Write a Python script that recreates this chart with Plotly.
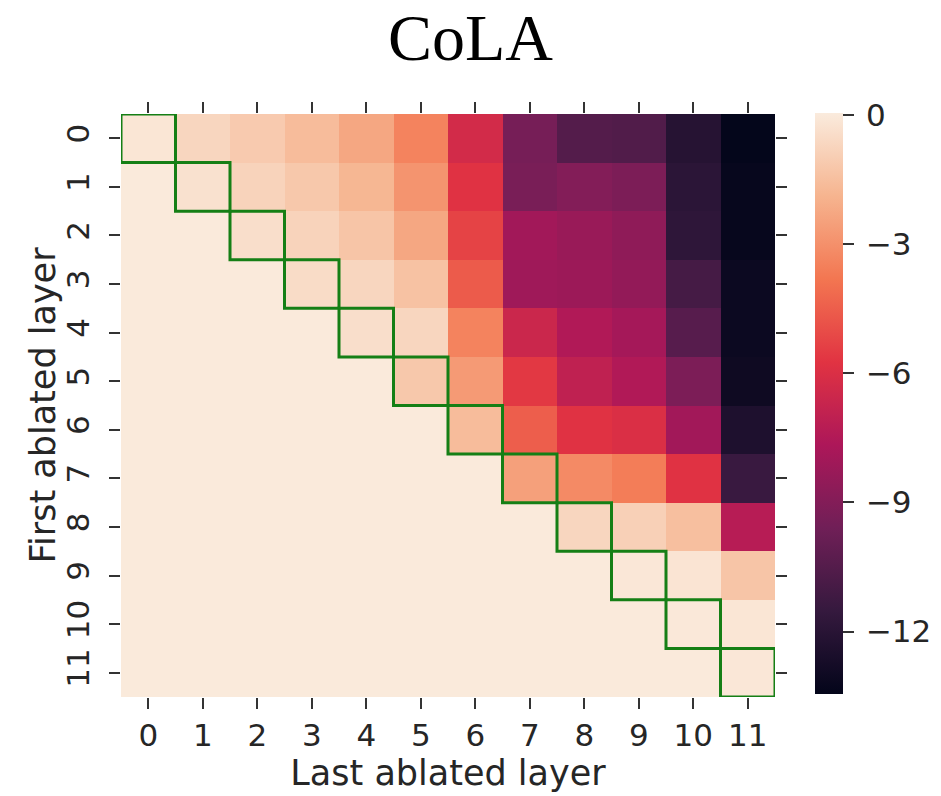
import plotly.graph_objects as go

# Layer indices (12 transformer layers)
layers = list(range(12))
layer_labels = [str(i) for i in layers]

# Change in CoLA score when ablating layers first..last (upper triangle, row = first layer)
row_first_0 = [-0.15, -0.7, -1.1, -1.6, -2.3, -3.4, -6.3, -9.4, -10.5, -10.6, -12.1, -13.4]
row_first_1 = [-0.3, -0.8, -1.2, -1.8, -2.9, -5.8, -9.3, -9.0, -9.2, -11.9, -13.3]
row_first_2 = [-0.4, -0.8, -1.3, -2.3, -5.3, -8.0, -8.3, -8.6, -11.8, -13.3]
row_first_3 = [-0.5, -0.7, -1.4, -4.6, -8.1, -8.2, -8.5, -11.0, -13.1]
row_first_4 = [-0.4, -0.7, -3.4, -6.6, -7.5, -7.9, -10.4, -13.1]
row_first_5 = [-1.2, -2.7, -5.6, -7.0, -7.5, -9.2, -13.0]
row_first_6 = [-1.6, -4.5, -5.8, -6.0, -8.0, -12.4]
row_first_7 = [-2.5, -3.2, -3.6, -5.8, -11.4]
row_first_8 = [-0.7, -0.9, -1.5, -7.3]
row_first_9 = [-0.1, -0.2, -1.3]
row_first_10 = [-0.05, -0.15]
row_first_11 = [-0.1]

upper_rows = [row_first_0, row_first_1, row_first_2, row_first_3, row_first_4,
              row_first_5, row_first_6, row_first_7, row_first_8, row_first_9,
              row_first_10, row_first_11]

# Cells below the diagonal (last < first) are unchanged
z = [[0.0] * (len(layers) - len(r)) + r for r in upper_rows]

# Colour bar ticks
cbar_ticks = [0, -3, -6, -9, -12]
cbar_labels = ["\u2009" + ("\u2212" + str(-v) if v < 0 else str(v)) for v in cbar_ticks]

# Seaborn "rocket" colormap
rocket = [
    [0.0, "#03051A"],
    [0.143, "#35193E"],
    [0.286, "#701F57"],
    [0.429, "#AD1759"],
    [0.571, "#E13342"],
    [0.714, "#F37651"],
    [0.857, "#F6B48F"],
    [1.0, "#FAEBDD"],
]

tick_font = dict(family="DejaVu Sans", size=31, color="#262626")
label_font = dict(family="DejaVu Sans", size=35, color="#262626")

fig = go.Figure(
    go.Heatmap(
        z=z,
        x=layers,
        y=layers,
        colorscale=rocket,
        zmin=-13.45,
        zmax=0.04,
        colorbar=dict(
            xref="paper",
            yref="paper",
            x=1.061,
            xanchor="left",
            y=0.5035,
            yanchor="middle",
            thickness=28,
            len=0.997,
            lenmode="fraction",
            outlinewidth=0,
            xpad=0,
            ypad=0,
            tickvals=cbar_ticks,
            ticktext=cbar_labels,
            ticks="outside",
            ticklen=11,
            tickwidth=1.5,
            tickcolor="#333333",
            tickfont=tick_font,
        ),
        hoverongaps=False,
    )
)

# Green outline around each diagonal cell (first == last)
for i in layers:
    fig.add_shape(
        type="rect",
        x0=i - 0.5, x1=i + 0.5, y0=i - 0.5, y1=i + 0.5,
        xref="x", yref="y",
        line=dict(color="#157F15", width=3),
        fillcolor="rgba(0,0,0,0)",
    )

axis_common = dict(
    tickmode="array",
    tickvals=layers,
    ticktext=layer_labels,
    range=[-0.5, 11.5],
    showgrid=False,
    zeroline=False,
    showline=False,
    ticks="outside",
    ticklen=11,
    tickwidth=1.5,
    tickcolor="#333333",
    mirror="allticks",
    tickfont=tick_font,
)

# Y-axis title, placed left of the rotated tick labels
fig.add_annotation(
    text="First ablated layer",
    textangle=-90,
    xref="paper", yref="paper",
    x=-79 / 654, y=0.5,
    xanchor="center", yanchor="middle",
    showarrow=False,
    font=label_font,
)

fig.update_layout(
    width=941,
    height=796,
    paper_bgcolor="white",
    plot_bgcolor="white",
    margin=dict(l=121, r=166, t=114, b=99, autoexpand=False),
    title=dict(
        text="CoLA",
        font=dict(family="Liberation Serif", size=66, color="black"),
        x=0.5,
        xanchor="center",
        xref="container",
        yref="container",
        y=1 - 37 / 796,
        yanchor="middle",
    ),
    xaxis=dict(
        **axis_common,
        title=dict(text="Last ablated layer", font=label_font, standoff=4),
    ),
    yaxis=dict(
        **{**axis_common, "range": [11.5, -0.5]},
        tickangle=-90,
        ticklabelstandoff=8,
    ),
)

fig.write_html("out.html")
